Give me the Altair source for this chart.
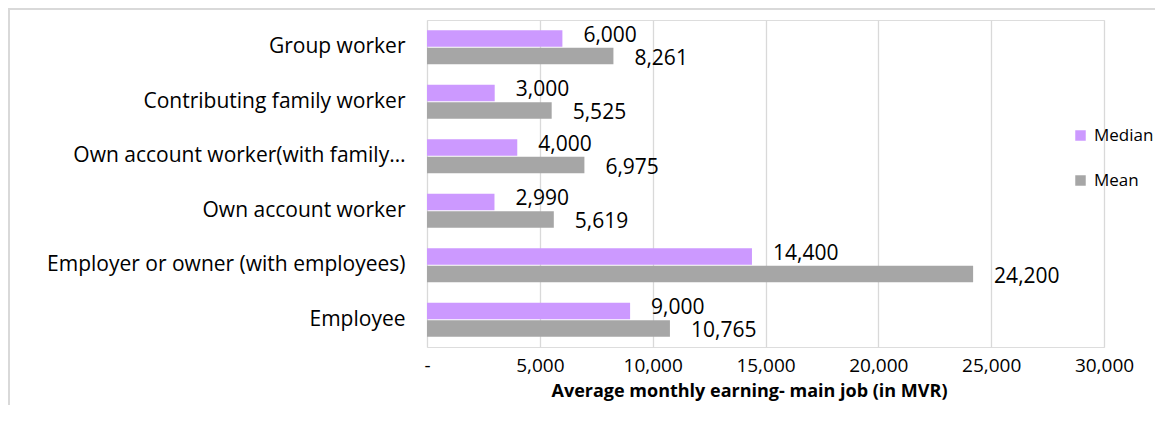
import altair as alt
import pandas as pd

categories = ["Group worker", "Contributing family worker", "Own account worker(with family…",
              "Own account worker", "Employer or owner (with employees)", "Employee"]
median_vals = [6000, 3000, 4000, 2990, 14400, 9000]
mean_vals = [8261, 5525, 6975, 5619, 24200, 10765]
series = ["Median", "Mean"]
colors = ["#CC99FF", "#A6A6A6"]
x_ticks = [0, 5000, 10000, 15000, 20000, 25000, 30000]

rows = []
for c, m, a in zip(categories, median_vals, mean_vals):
    rows.append({"cat": c, "series": "Median", "value": m, "label": f"{m:,}"})
    rows.append({"cat": c, "series": "Mean", "value": a, "label": f"{a:,}"})
df = pd.DataFrame(rows)

FONT = "Open Sans"
FS = 21

y_enc = alt.Y("cat:N", sort=categories, title=None,
              scale=alt.Scale(paddingInner=0.38, paddingOuter=0.19),
              axis=alt.Axis(labelFontSize=FS, labelColor="#000000", labelPadding=22,
                            ticks=False, domain=False, labelLimit=420, labelFont=FONT))
x_enc = alt.X("value:Q", title="Average monthly earning- main job (in MVR)",
              scale=alt.Scale(domain=[0, 30000], nice=False),
              axis=alt.Axis(values=x_ticks, labelExpr="datum.value == 0 ? '-' : format(datum.value, ',')",
                            labelFontSize=19, labelColor="#000000", labelPadding=9,
                            labelFlush=False, labelOverlap=False, labelBound=False,
                            titleFontSize=18, titleFontWeight="bold", titleColor="#000000",
                            titlePadding=7, titleX=322, titleAlign="center", titleAnchor="start",
                            ticks=False, domain=False,
                            grid=True, gridColor="#D9D9D9", gridWidth=1.3,
                            labelFont=FONT, titleFont=FONT))

base = alt.Chart(df)
bars = base.mark_bar().encode(
    x=x_enc, y=y_enc,
    yOffset=alt.YOffset("series:N", sort=series, scale=alt.Scale(paddingInner=0.05)),
    color=alt.Color("series:N", sort=series, scale=alt.Scale(domain=series, range=colors),
                    legend=alt.Legend(title=None, orient="none", legendX=645, legendY=107,
                                      symbolType="square", symbolSize=110, symbolStrokeWidth=0,
                                      labelFontSize=17, labelFont=FONT, labelColor="#000000",
                                      rowPadding=27, labelOffset=5)),
)

med_labels = base.transform_filter(alt.datum.series == "Median").mark_text(
    align="left", baseline="middle", dx=21, dy=-3, fontSize=FS, font=FONT, color="#000000"
).encode(x="value:Q", y=alt.Y("cat:N", sort=categories),
         yOffset=alt.YOffset("series:N", sort=series), text="label:N")
mean_labels = base.transform_filter(alt.datum.series == "Mean").mark_text(
    align="left", baseline="middle", dx=21, dy=3, fontSize=FS, font=FONT, color="#000000"
).encode(x="value:Q", y=alt.Y("cat:N", sort=categories),
         yOffset=alt.YOffset("series:N", sort=series), text="label:N")

border = alt.Chart(pd.DataFrame({"a": [0]})).mark_rule(color="#D9D9D9", strokeWidth=2).encode(
    x=alt.value(-419), x2=alt.value(760), y=alt.value(-11))
border_l = alt.Chart(pd.DataFrame({"a": [0]})).mark_rule(color="#D9D9D9", strokeWidth=2).encode(
    x=alt.value(-418), y=alt.value(-11), y2=alt.value(400))

chart = alt.layer(bars, med_labels, mean_labels, border, border_l).properties(
    width=677, height=327,
    autosize=alt.AutoSizeParams(type="none"),
    padding={"left": 419, "top": 12, "right": 51, "bottom": 58},
).configure_view(stroke=None).configure(background="#FFFFFF")

chart.save("out.html", embed_options={"renderer": "svg", "actions": False})
